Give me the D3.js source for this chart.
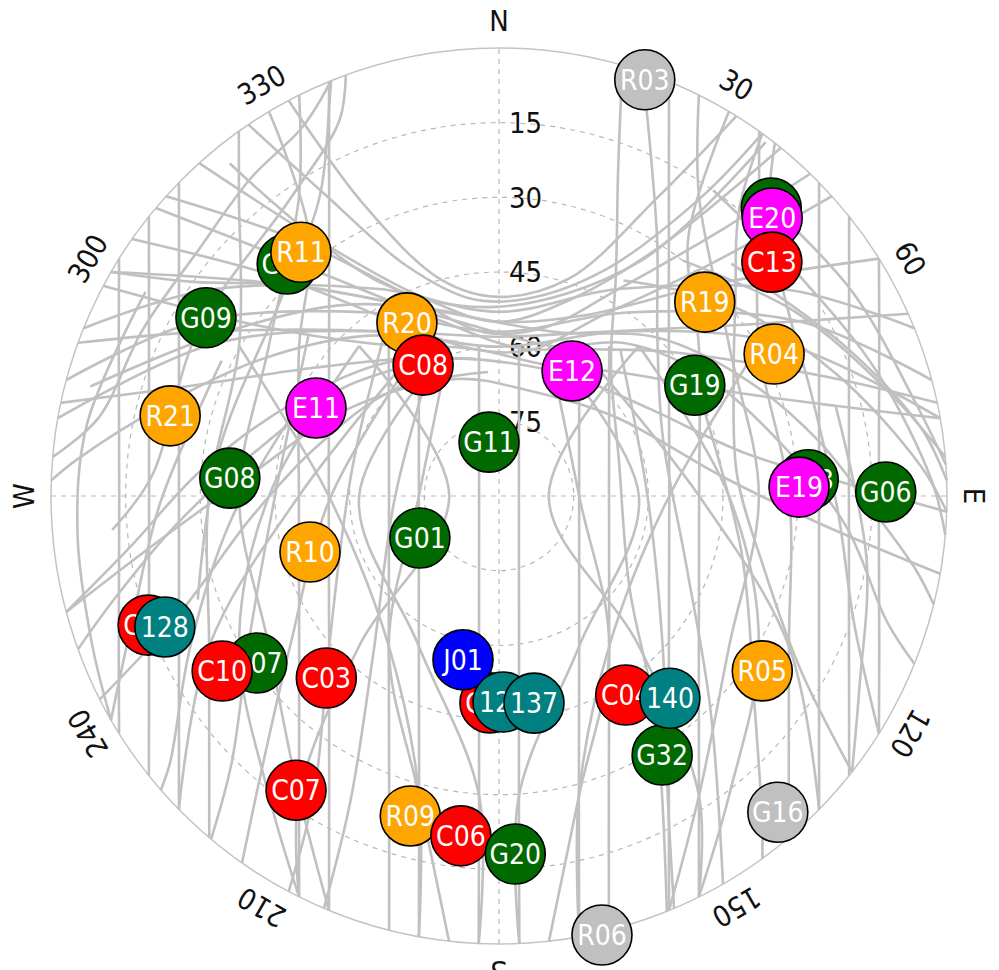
<!DOCTYPE html>
<html>
<head>
<meta charset="utf-8">
<script src="https://cdn.jsdelivr.net/npm/d3@7"></script>
<style>
  body { margin: 0; background: #fff; }
  text { font-family: "DejaVu Sans Condensed", "DejaVu Sans", sans-serif; font-stretch: condensed; }
</style>
</head>
<body>
<div id="chart"></div>
<script>
// azimuth / elevation of each satellite at the plotted epoch (drawing order)
var satNames = ["G02", "G17", "G09", "G08", "G03", "G06", "G01", "G07", "G32", "G19", "G11",
  "R03", "G16", "R06",
  "R11", "R19", "R04", "R20", "R21", "R10", "R05", "R09",
  "E20", "E12", "E11", "E19",
  "C13", "C08", "C02", "C10", "C03", "C01", "C04", "C07", "C06",
  "G20", "J01",
  "128", "129", "137", "140"];
var satAz = [43.4, 317.6, 301.3, 273.8, 87.0, 89.4, 242, 235.4, 147.8, 60.5, 349.5,
  19.3, 138.6, 166.8,
  320.9, 46.7, 62.7, 332, 283.7, 253.5, 123.6, 195.5,
  44.5, 30.3, 295.7, 88.3,
  49.4, 329.9, 249.8, 237.7, 223.5, 182.5, 147.5, 214.6, 186.4,
  177.4, 192.4,
  248.6, 178.9, 170.4, 139.8];
var satEl = [10.4, 26.9, 21.1, 35.8, 27.8, 12.3, 72, 30.9, 28.5, 44.8, 79.0,
  1.4, 5.3, -0.6,
  26.9, 33.2, 27.8, 50.6, 22.0, 50.4, 26.5, 23.3,
  11.7, 60.9, 49.2, 29.7,
  17.8, 59.6, 14.9, 24.2, 39.6, 48.4, 42.6, 18.2, 21.3,
  18.0, 56.3,
  17.9, 48.6, 47.8, 36.8];
var satGroup = ["G", "G", "G", "G", "G", "G", "G", "G", "G", "G", "G",
  "X", "X", "X",
  "R", "R", "R", "R", "R", "R", "R", "R",
  "E", "E", "E", "E",
  "C", "C", "C", "C", "C", "C", "C", "C", "C",
  "G", "J",
  "S", "S", "S", "S"];
var groupColor = { G: "#006a00", R: "#ffa500", E: "#ff00ff", C: "#ff0000", J: "#0000ff", S: "#008080", X: "#c0c0c0" };

var elevRings = [15, 30, 45, 60, 75];
var azLabels = ["N", "30", "60", "E", "120", "150", "S", "210", "240", "W", "300", "330"];

// sky tracks, [azimuth, elevation] read along the grey paths
var tracks = [
  // northern bowl
  [[321,4],[331,41],[359,52],[31,35],[37,1]],
  [[318,0],[326,30],[340,48],[0,55],[20,48],[33,30],[39,0]],
  [[312,0],[322,25],[335,45],[355,57],[15,55],[30,42],[40,20],[44,0]],
  [[326,0],[330,20],[338,40],[352,50],[8,50],[25,40],[34,18],[36,0]],
  [[305,0],[315,28],[330,50],[350,60],[12,60],[30,48],[42,28],[48,0]],
  [[332,0],[335,25],[345,45],[0,50],[18,44],[28,22],[32,0]],
  [[285,0],[300,20],[325,45],[0,57],[35,45],[60,20],[75,0]],
  [[280,0],[298,25],[322,48],[0,60],[38,48],[62,25],[80,0]],
  [[292,0],[305,18],[330,42],[0,53],[30,42],[55,18],[68,0]],
  // from R03 and the north-east
  [[19,1],[24,15],[32,30],[45,45],[70,55],[110,50],[135,30],[150,0]],
  [[16,0],[20,20],[28,40],[40,55],[75,65],[125,58],[145,35],[158,0]],
  [[45,24],[67,14],[81,4],[88,0]],
  [[38,30],[58,20],[75,9],[85,0]],
  [[30,40],[50,30],[70,18],[86,5],[92,0]],
  [[42,10],[60,8],[78,4],[86,0]],
  [[35,15],[55,15],[72,10],[88,3],[95,0]],
  [[36,0],[40,15],[50,28],[65,38],[85,42],[105,35],[120,20],[128,0]],
  [[38,0],[44,12],[55,20],[72,24],[92,22],[110,14],[122,0]],
  // east to west across the knot
  [[92,0],[88,20],[80,40],[60,55],[30,62],[0,63],[330,58],[305,45],[290,25],[282,0]],
  [[100,0],[95,25],[85,45],[55,62],[15,68],[340,65],[300,55],[275,40],[262,20],[255,0]],
  [[80,0],[75,20],[65,40],[45,55],[20,62],[350,60],[320,50],[305,30],[298,0]],
  [[300,0],[315,30],[345,52],[20,55],[45,45],[65,35],[80,25],[92,15],[100,5],[104,0]],
  [[310,0],[320,30],[340,52],[10,60],[40,50],[60,42],[80,32],[95,20],[108,8],[112,0]],
  // knot to south-west
  [[350,62],[320,55],[295,45],[275,30],[262,15],[255,0]],
  [[340,60],[305,52],[280,40],[265,25],[255,10],[250,0]],
  [[355,65],[315,60],[285,52],[265,40],[250,22],[243,0]],
  [[345,58],[320,48],[300,35],[285,20],[275,5],[272,0]],
  // east, north-south passes
  [[22.3,0],[29.5,20.7],[48.6,44.5],[90,55.8],[131.4,44.5],[150.5,20.7],[157.7,0]],
  [[26.5,0],[33.7,17.6],[56.9,34.8],[90,37.8],[123.1,34.8],[146.3,17.6],[157.7,0]],
  [[35.5,0],[40.9,10.2],[60,29.7],[90,31.7],[117.4,24.4],[136,6.2],[139.7,0]],
  [[45.6,0],[64.9,19],[90,25.7],[115.1,19],[134.4,0]],
  [[51.4,0],[66.8,13.5],[90,19.7],[113.2,13.5],[128.6,0]],
  [[58,0],[68.5,7.9],[90,13.7],[111.5,7.9],[122,0]],
  [[30.9,0],[36.3,25.8],[53.1,39.8],[90,49.8],[126.9,39.8],[146.3,17.6],[153.5,0]],
  // centre, from the knot to the south horizon
  [[7.6,59.6],[90,86],[172.4,59.6],[176.2,29.6],[177.4,0]],
  [[28.1,55.8],[90,73.9],[151.9,55.8],[165.1,27.6],[169.7,0]],
  [[36.3,52.6],[90,67.9],[143.7,52.6],[159.9,25.8],[165.8,0]],
  [[18.4,58.3],[90,73.9],[143.7,52.6],[165.1,27.6],[173.6,0]],
  [[352.4,59.6],[270,86],[187.6,59.6],[183.8,29.6],[182.6,0]],
  [[331.9,55.8],[270,73.9],[208.1,55.8],[194.9,27.6],[190.3,0]],
  [[323.7,52.6],[270,67.9],[216.3,52.6],[200.1,25.8],[194.2,0]],
  [[341.6,58.3],[270,73.9],[216.3,52.6],[194.9,27.6],[186.4,0]],
  // crossing loops in the south
  [[18.4,58.3],[90,61.9],[151.9,55.8],[176.2,29.6],[177.4,0]],
  [[43,48.8],[90,80],[137,48.8],[146.3,17.6],[153.5,0]],
  [[341.6,58.3],[270,61.9],[208.1,55.8],[183.8,29.6],[182.6,0]],
  [[317,48.8],[270,80],[223,48.8],[213.7,17.6],[206.5,0]],
  [[317,48.8],[270,43.8],[240,29.7],[217.5,14.1],[206.5,0]],
  [[43,48.8],[90,43.8],[120,29.7],[142.5,14.1],[153.5,0]],
  [[28.1,55.8],[90,49.8],[117.4,24.4],[134.4,0]],
  [[331.9,55.8],[270,49.8],[242.6,24.4],[225.6,0]],
  [[60,29.7],[90,55.8],[143.7,52.6],[165.1,27.6],[169.7,0]],
  [[300,29.7],[270,55.8],[216.3,52.6],[194.9,27.6],[190.3,0]],
  // west, north-south passes
  [[337.7,0],[330.5,20.7],[311.4,44.5],[270,55.8],[228.6,44.5],[209.5,20.7],[202.3,0]],
  [[333.5,0],[326.3,17.6],[303.1,34.8],[270,37.8],[236.9,34.8],[213.7,17.6],[202.3,0]],
  [[324.5,0],[319.1,10.2],[300,29.7],[270,31.7],[242.6,24.4],[224,6.2],[220.3,0]],
  [[314.4,0],[295.1,19],[270,25.7],[244.9,19],[225.6,0]],
  [[308.6,0],[293.2,13.5],[270,19.7],[246.8,13.5],[231.4,0]],
  [[302,0],[291.5,7.9],[270,13.7],[248.5,7.9],[238,0]],
  [[329.1,0],[323.7,25.8],[306.9,39.8],[270,49.8],[233.1,39.8],[213.7,17.6],[206.5,0]],
  // south-west and south-east arcs
  [[331,61],[268,69],[219,50],[206,22],[203,0]],
  [[320,59],[269,56],[234,38],[220,15],[215,0]],
  [[296,46],[265,36],[244,21],[231,5],[229,0]],
  [[296,28],[269,22],[251,12],[240,0]],
  [[300,8],[280,6],[265,5],[250,3],[240,0]],
  [[310,40],[270,45],[240,32],[225,14],[220,0]],
  [[325,50],[280,60],[228,44],[212,20],[208,0]],
  [[40,52],[92,60],[133,45],[151,20],[157,0]],
  [[64,45],[103,40],[129,24],[141,6],[144,0]],
  [[75,20],[100,15],[118,8],[128,0]],
  // north-west, low arcs
  [[275,0],[281,8],[295,11],[309,12],[322,9],[332,6],[338,0]],
  [[265,12],[273,20],[299,21],[325,17],[337,8],[340,0]],
  [[251,26],[279,33],[312,31],[329,20],[337,3],[338,0]],
  [[300,0],[305,15],[315,30],[330,45],[350,55],[20,58],[50,45],[70,20],[78,0]],
  [[290,0],[298,20],[310,38],[330,52],[0,58],[30,52],[55,30],[66,0]],
  [[285,5],[300,25],[320,40],[340,50],[0,55],[25,50],[45,30],[58,0]]
];

var width = 999, height = 970, cx = 499, cy = 496, R = 448;
var rad = Math.PI / 180;

var r = d3.scaleLinear().domain([90, 0]).range([0, R]);

var svg = d3.select("#chart").append("svg")
  .attr("width", width).attr("height", height);

var g = svg.append("g").attr("transform", "translate(" + cx + "," + cy + ")");

// grid
g.append("circle").attr("r", r(0))
  .attr("fill", "none").attr("stroke", "#c4c4c4").attr("stroke-width", 1.5);
g.selectAll(".ring").data(elevRings).enter().append("circle")
  .attr("class", "ring").attr("r", function(d) { return r(d); })
  .attr("fill", "none").attr("stroke", "#b8b8b8")
  .attr("stroke-width", 1.2).attr("stroke-dasharray", "5,5");
g.selectAll(".spoke").data([0, 90]).enter().append("line")
  .attr("x1", function(d) { return -r(0) * Math.sin(d * rad); })
  .attr("y1", function(d) { return r(0) * Math.cos(d * rad); })
  .attr("x2", function(d) { return r(0) * Math.sin(d * rad); })
  .attr("y2", function(d) { return -r(0) * Math.cos(d * rad); })
  .attr("stroke", "#b8b8b8").attr("stroke-width", 1.2).attr("stroke-dasharray", "5,5");

g.selectAll(".elab").data(elevRings).enter().append("text")
  .attr("x", 10).attr("y", function(d) { return -r(d); })
  .attr("dy", "0.36em").attr("font-size", 29).attr("fill", "#111")
  .text(function(d) { return d; });

g.selectAll(".alab").data(azLabels).enter().append("text")
  .attr("transform", function(d, i) { return "rotate(" + (i * 30) + ") translate(0," + (-475) + ")"; })
  .attr("text-anchor", "middle").attr("dy", "0.36em")
  .attr("font-size", 29).attr("fill", "#111")
  .text(function(d) { return d; });

// tracks
var line = d3.lineRadial()
  .angle(function(d) { return d[0] * rad; })
  .radius(function(d) { return r(d[1]); })
  .curve(d3.curveCatmullRom.alpha(0.5));

g.selectAll(".track").data(tracks).enter().append("path")
  .attr("class", "track").attr("d", line)
  .attr("fill", "none").attr("stroke", "#c0c0c0").attr("stroke-width", 2.6);

// satellites
var sats = satNames.map(function(n, i) {
  return { name: n, az: satAz[i], el: satEl[i], grp: satGroup[i] };
});
var sg = g.selectAll(".sat").data(sats).enter().append("g")
  .attr("transform", function(d) {
    return "translate(" + (r(d.el) * Math.sin(d.az * rad)) + "," + (-r(d.el) * Math.cos(d.az * rad)) + ")";
  });
sg.append("circle").attr("r", 30)
  .attr("fill", function(d) { return groupColor[d.grp]; })
  .attr("stroke", "#000").attr("stroke-width", 1.6);
sg.append("text").attr("text-anchor", "middle").attr("dy", "0.36em")
  .attr("font-size", 28).attr("fill", "#fff")
  .text(function(d) { return d.name; });
</script>
</body>
</html>
